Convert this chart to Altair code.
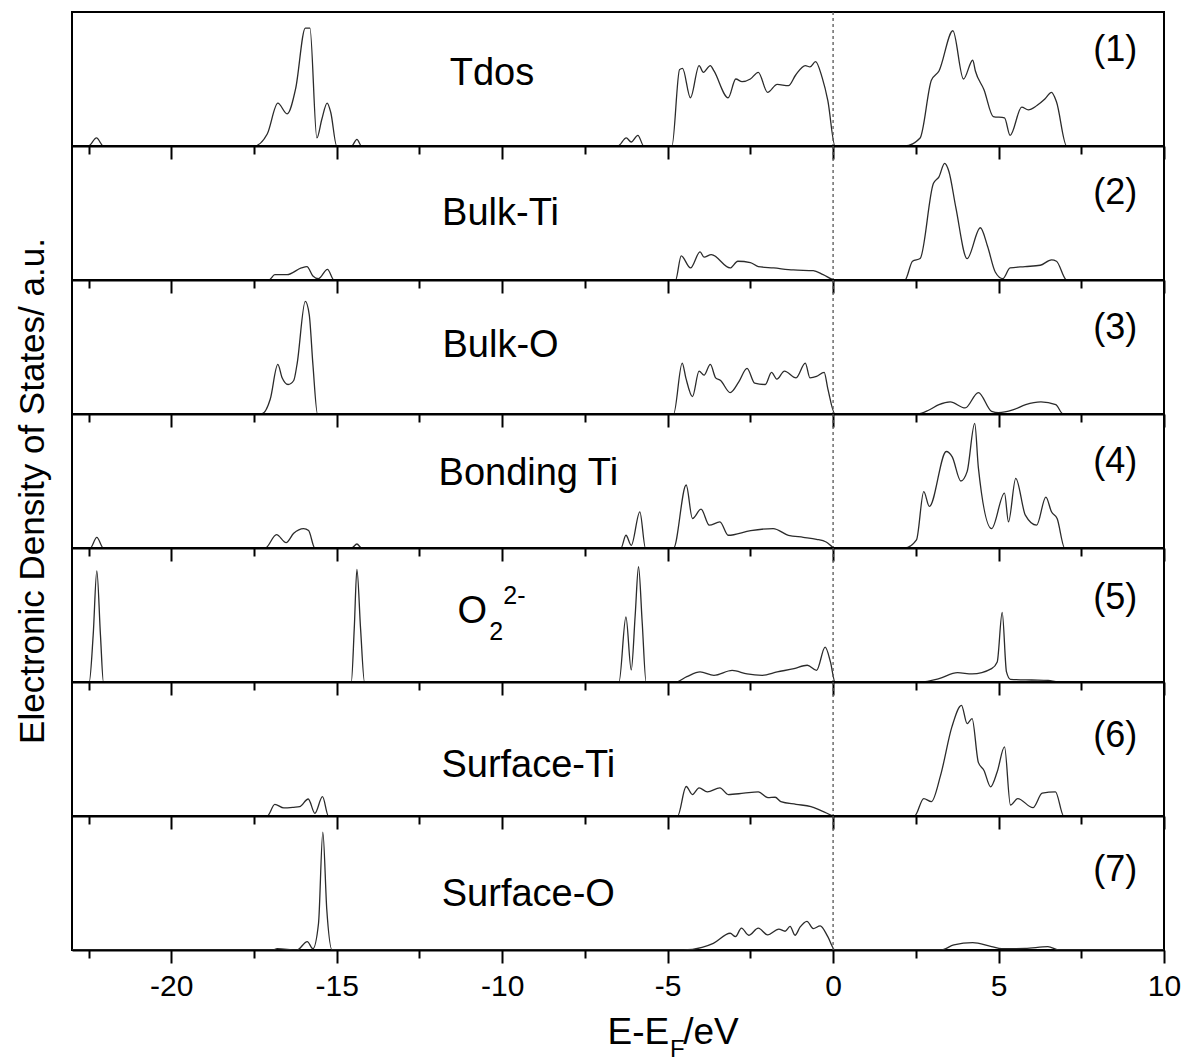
import altair as alt
import pandas as pd

FONT = "Liberation Sans"
X_DOMAIN = [-23, 10]
MAJOR_TICKS = [-20, -15, -10, -5, 0, 5, 10]
MINOR_TICKS = [-22.5, -17.5, -12.5, -7.5, -2.5, 2.5, 7.5]

# (energy eV, DOS as fraction of panel height)
TDOS = [(-23, 0), (-22.5, 0), (-22.26, 0.06), (-22.05, 0), (-17.5, 0), (-17.1, 0.09), (-16.78, 0.32),
        (-16.5, 0.24), (-16.24, 0.43), (-15.95, 0.88), (-15.81, 0.88), (-15.6, 0.06), (-15.45, 0.2),
        (-15.29, 0.32), (-15.18, 0.25), (-15.0, 0), (-14.55, 0), (-14.39, 0.05), (-14.25, 0),
        (-6.5, 0), (-6.25, 0.06), (-6.1, 0.03), (-5.9, 0.08), (-5.72, 0), (-4.87, 0), (-4.64, 0.57),
        (-4.55, 0.58), (-4.31, 0.36), (-4.05, 0.6), (-3.92, 0.55), (-3.71, 0.6), (-3.6, 0.56),
        (-3.17, 0.36), (-2.94, 0.5), (-2.75, 0.48), (-2.5, 0.5), (-2.26, 0.55), (-1.98, 0.4),
        (-1.69, 0.46), (-1.35, 0.45), (-1.13, 0.53), (-0.84, 0.6), (-0.7, 0.59), (-0.53, 0.63),
        (-0.33, 0.51), (-0.16, 0.34), (0.06, 0), (2.17, 0), (2.63, 0.06), (2.97, 0.49), (3.2, 0.56),
        (3.62, 0.86), (3.94, 0.5), (4.22, 0.64), (4.3, 0.56), (4.56, 0.42), (4.84, 0.22), (5.18, 0.21),
        (5.35, 0.08), (5.7, 0.29), (5.9, 0.27), (6.15, 0.3), (6.4, 0.35), (6.6, 0.4), (6.75, 0.33),
        (7.06, 0), (10, 0)]

BULK_TI = [(-23, 0), (-17.05, 0), (-16.87, 0.04), (-16.5, 0.04), (-16.07, 0.09), (-15.9, 0.1),
           (-15.72, 0.03), (-15.55, 0.01), (-15.28, 0.08), (-15.08, 0), (-4.76, 0), (-4.59, 0.18),
           (-4.31, 0.09), (-4.02, 0.21), (-3.9, 0.17), (-3.68, 0.19), (-3.11, 0.09), (-2.88, 0.14),
           (-2.5, 0.13), (-2.26, 0.1), (-1.8, 0.09), (-1.2, 0.075), (-0.6, 0.07), (-0.3, 0.04),
           (0.06, 0), (2.17, 0), (2.4, 0.14), (2.63, 0.16), (3.03, 0.72), (3.2, 0.77), (3.37, 0.87),
           (3.5, 0.81), (3.71, 0.54), (4.05, 0.16), (4.45, 0.39), (4.67, 0.25), (4.9, 0.06),
           (5.13, 0.01), (5.35, 0.09), (5.8, 0.1), (6.26, 0.11), (6.6, 0.15), (6.75, 0.14),
           (7.06, 0), (10, 0)]

BULK_O = [(-23, 0), (-17.27, 0), (-17.01, 0.11), (-16.78, 0.37), (-16.65, 0.27), (-16.47, 0.22),
          (-16.3, 0.25), (-16.2, 0.37), (-15.95, 0.84), (-15.83, 0.74), (-15.72, 0.37), (-15.58, 0),
          (-4.82, 0), (-4.56, 0.38), (-4.45, 0.27), (-4.25, 0.13), (-4.05, 0.32), (-3.9, 0.29),
          (-3.71, 0.37), (-3.55, 0.27), (-3.4, 0.25), (-3.11, 0.16), (-2.85, 0.24), (-2.6, 0.34),
          (-2.37, 0.23), (-2.05, 0.22), (-1.86, 0.31), (-1.7, 0.26), (-1.47, 0.32), (-1.12, 0.27),
          (-0.84, 0.38), (-0.7, 0.27), (-0.5, 0.28), (-0.27, 0.31), (-0.16, 0.19), (0.06, 0),
          (2.57, 0), (2.9, 0.03), (3.2, 0.07), (3.54, 0.09), (3.99, 0.045), (4.39, 0.16),
          (4.79, 0.02), (5.0, 0.01), (5.43, 0.03), (5.82, 0.07), (6.28, 0.09), (6.73, 0.07),
          (6.95, 0), (10, 0)]

BONDING_TI = [(-23, 0), (-22.45, 0), (-22.25, 0.08), (-22.05, 0), (-17.16, 0), (-16.82, 0.1),
              (-16.53, 0.04), (-16.3, 0.11), (-16.0, 0.145), (-15.85, 0.13), (-15.66, 0),
              (-14.55, 0), (-14.39, 0.03), (-14.25, 0), (-6.41, 0), (-6.26, 0.095), (-6.1, 0.02),
              (-5.84, 0.27), (-5.67, 0), (-4.82, 0), (-4.44, 0.47), (-4.25, 0.22), (-3.99, 0.29),
              (-3.74, 0.17), (-3.42, 0.195), (-3.17, 0.095), (-2.49, 0.13), (-1.81, 0.145),
              (-1.35, 0.095), (-0.9, 0.08), (-0.5, 0.065), (-0.21, 0.045), (0.06, 0), (2.17, 0),
              (2.52, 0.06), (2.74, 0.42), (2.91, 0.31), (3.42, 0.72), (3.6, 0.68), (3.86, 0.5),
              (4.05, 0.57), (4.28, 0.93), (4.39, 0.6), (4.79, 0.145), (5.18, 0.41), (5.3, 0.195),
              (5.52, 0.52), (5.81, 0.245), (6.15, 0.17), (6.43, 0.38), (6.6, 0.27), (6.77, 0.22),
              (7.0, 0), (10, 0)]

O2_2M = [(-23, 0), (-22.48, 0), (-22.36, 0.35), (-22.25, 0.83), (-22.14, 0.35), (-22.05, 0),
         (-14.56, 0), (-14.47, 0.4), (-14.39, 0.84), (-14.28, 0.4), (-14.16, 0), (-6.47, 0),
         (-6.26, 0.485), (-6.1, 0.09), (-5.98, 0.5), (-5.88, 0.86), (-5.77, 0.45), (-5.65, 0),
         (-4.76, 0), (-4.42, 0.04), (-4.02, 0.075), (-3.6, 0.05), (-3.05, 0.087), (-2.6, 0.06),
         (-2.14, 0.05), (-1.69, 0.075), (-1.18, 0.1), (-0.78, 0.125), (-0.5, 0.087), (-0.24, 0.26),
         (-0.08, 0.15), (0.06, 0), (2.63, 0), (3.2, 0.025), (3.76, 0.07), (4.2, 0.06), (4.79, 0.1),
         (4.96, 0.15), (5.11, 0.52), (5.24, 0.075), (5.36, 0.02), (6.0, 0.015), (6.5, 0.012),
         (6.8, 0), (10, 0)]

SURFACE_TI = [(-23, 0), (-17.1, 0), (-16.87, 0.087), (-16.6, 0.06), (-16.3, 0.065), (-16.12, 0.07),
              (-15.86, 0.127), (-15.66, 0.02), (-15.43, 0.144), (-15.25, 0), (-4.7, 0), (-4.44, 0.22),
              (-4.25, 0.16), (-4.05, 0.21), (-3.8, 0.18), (-3.42, 0.21), (-3.17, 0.16), (-2.7, 0.17),
              (-2.26, 0.18), (-1.97, 0.137), (-1.75, 0.14), (-1.58, 0.107), (-1.12, 0.087),
              (-0.67, 0.07), (-0.33, 0.037), (0.06, 0), (2.46, 0), (2.74, 0.13), (2.97, 0.107),
              (3.25, 0.305), (3.59, 0.665), (3.88, 0.826), (4.05, 0.69), (4.2, 0.727), (4.39, 0.4),
              (4.56, 0.34), (4.76, 0.218), (4.96, 0.33), (5.18, 0.516), (5.36, 0.082), (5.58, 0.13),
              (6.04, 0.062), (6.32, 0.17), (6.72, 0.18), (6.97, 0), (10, 0)]

SURFACE_O = [(-23, 0), (-16.93, 0), (-16.8, 0.01), (-16.2, 0), (-15.89, 0.063), (-15.72, 0.01),
             (-15.55, 0.2), (-15.42, 0.88), (-15.3, 0.3), (-15.14, 0), (-4.53, 0), (-3.96, 0.02),
             (-3.62, 0.05), (-3.11, 0.125), (-2.95, 0.1), (-2.77, 0.163), (-2.55, 0.11),
             (-2.26, 0.163), (-1.98, 0.113), (-1.64, 0.156), (-1.45, 0.14), (-1.3, 0.176),
             (-1.15, 0.11), (-1.0, 0.17), (-0.79, 0.214), (-0.6, 0.16), (-0.39, 0.18), (-0.16, 0.1),
             (0.06, 0), (3.25, 0), (3.65, 0.038), (4.22, 0.055), (4.79, 0.025), (5.1, 0.01),
             (5.8, 0.012), (6.49, 0.025), (6.84, 0), (10, 0)]

CURVES = [TDOS, BULK_TI, BULK_O, BONDING_TI, O2_2M, SURFACE_TI, SURFACE_O]
PANEL_NAMES = ["Tdos", "Bulk-Ti", "Bulk-O", "Bonding Ti", "", "Surface-Ti", "Surface-O"]
NAME_X = [-10.31, -10.05, -10.05, -9.21, -10.9, -9.21, -9.21]
NAME_Y = [0.54, 0.49, 0.51, 0.55, 0.52, 0.37, 0.41]
PANEL_NUMS = ["(1)", "(2)", "(3)", "(4)", "(5)", "(6)", "(7)"]
NUM_X = 8.53
NUM_Y = [0.72, 0.65, 0.64, 0.64, 0.63, 0.60, 0.60]

# O2 2- label parts: text, x, y, size
O2_PARTS = [("O", -10.9, 0.52, 38), ("2", -10.18, 0.37, 25), ("2-", -9.63, 0.64, 25)]
# x title parts: text, x, pixel y below panel 7, align, size
XTITLE_PARTS = [("E-E", -4.95, 217, "right", 37), ("F", -4.71, 234, "center", 24),
                ("/eV", -4.53, 217, "left", 37)]
Y_TITLE = "Electronic Density of States/ a.u."

PANEL_W = 1092
PANEL_H = 134
LINE_COLOR = "#2b2b2b"

xscale = alt.Scale(domain=X_DOMAIN, nice=False, zero=False)
yscale = alt.Scale(domain=[0, 1], nice=False, zero=False)


def major_axis(show_labels):
    return alt.Axis(
        values=MAJOR_TICKS, orient="bottom", title=None, grid=False,
        domain=True, domainColor="black", domainWidth=2,
        ticks=True, tickColor="black", tickWidth=2, tickSize=13,
        labels=show_labels, labelExpr="'' + datum.value",
        labelFont=FONT, labelFontSize=30, labelColor="black", labelPadding=8,
        labelFlush=False, labelOverlap=False,
    )


def minor_axis():
    return alt.Axis(
        values=MINOR_TICKS, orient="bottom", title=None, grid=False,
        domain=False, ticks=True, tickColor="black", tickWidth=2, tickSize=8,
        labels=False,
    )


def text_layer(df, size, align="center", y_pixel=None, x_pixel=None, angle=0):
    enc = dict(text="t:N")
    enc["x"] = alt.value(x_pixel) if x_pixel is not None else alt.X("x:Q", scale=xscale, axis=None)
    enc["y"] = alt.value(y_pixel) if y_pixel is not None else alt.Y("y:Q", scale=yscale, axis=None)
    return alt.Chart(df).mark_text(font=FONT, fontSize=size, color="black", angle=angle,
                                   align=align, baseline="middle").encode(**enc)


def panel(i):
    df = pd.DataFrame(CURVES[i], columns=["E", "D"])
    line = alt.Chart(df).mark_line(color=LINE_COLOR, strokeWidth=1.3, interpolate="monotone",
                                   clip=True).encode(
        x=alt.X("E:Q", scale=xscale, axis=major_axis(i == 6)),
        y=alt.Y("D:Q", scale=yscale, axis=None),
    )
    zero = alt.Chart(pd.DataFrame({"E": [0.0]})).mark_rule(
        color="#555", strokeDash=[3, 3], strokeWidth=1.3).encode(
        x=alt.X("E:Q", scale=xscale, axis=minor_axis()))
    layers = [line, zero]

    layers.append(text_layer(pd.DataFrame({"t": [PANEL_NUMS[i]], "x": [NUM_X], "y": [NUM_Y[i]]}), 36))

    if PANEL_NAMES[i]:
        layers.append(text_layer(
            pd.DataFrame({"t": [PANEL_NAMES[i]], "x": [NAME_X[i]], "y": [NAME_Y[i]]}), 38))
    else:
        for t, x, y, s in O2_PARTS:
            layers.append(text_layer(pd.DataFrame({"t": [t], "x": [x], "y": [y]}), s))

    if i == 3:
        layers.append(text_layer(pd.DataFrame({"t": [Y_TITLE]}), 35, x_pixel=-39, y_pixel=77,
                                 angle=270))

    if i == 6:
        for t, x, py, al, s in XTITLE_PARTS:
            layers.append(text_layer(pd.DataFrame({"t": [t], "x": [x]}), s, align=al, y_pixel=py))

    return alt.layer(*layers).resolve_axis(x="independent").properties(width=PANEL_W, height=PANEL_H)


chart = alt.vconcat(*[panel(i) for i in range(7)], spacing=0, bounds="flush").configure_view(
    stroke="black", strokeWidth=2
).properties(padding={"left": 6, "top": 2, "right": 5, "bottom": 0})

chart.save("out.html", embed_options={"renderer": "svg", "actions": False})
